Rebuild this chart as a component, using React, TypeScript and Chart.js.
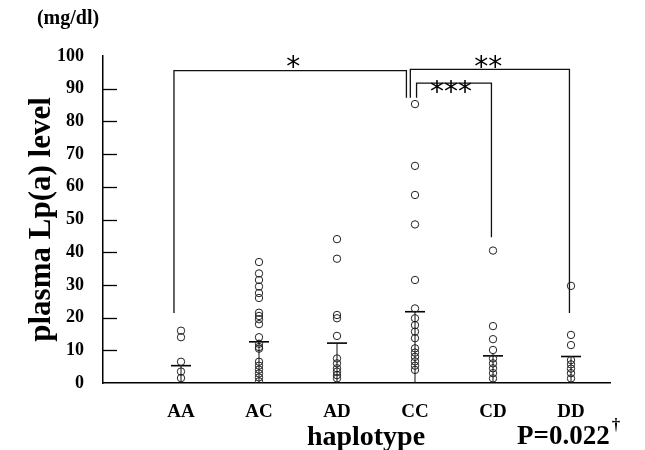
import React, { useEffect, useRef } from "react";
import { Chart, registerables } from "chart.js";

Chart.register(...registerables);

const categories = ["AA", "AC", "AD", "CC", "CD", "DD"];
const aaValues = [16, 14, 6.5, 3.5, 1.5];
const acValues = [37, 33.5, 31.5, 29.5, 27.5, 26, 21.5, 20.5, 19.5, 18, 14, 12, 11, 10.5, 6.5, 5.3, 4.1, 2.9, 1.7, 0.5];
const adValues = [44, 38, 20.8, 19.8, 14.4, 7.5, 6, 4.5, 3.5, 2.4, 1.4];
const ccValues = [85.3, 66.4, 57.5, 48.5, 31.5, 22.8, 19.8, 17.7, 15.7, 13.7, 10.6, 9.3, 8, 6.6, 5.3, 4];
const cdValues = [40.5, 17.4, 13.4, 10.1, 7.5, 6, 4.5, 3, 1.4];
const ddValues = [29.7, 14.7, 11.6, 7, 5.7, 4.4, 3, 1.4];
const groupValues = [aaValues, acValues, adValues, ccValues, cdValues, ddValues];
const centralValues = [5.3, 12.6, 12.2, 21.8, 8.3, 8.1];
const yTicks = [0, 10, 20, 30, 40, 50, 60, 70, 80, 90, 100];

// significance brackets (x in category units, y in mg/dl)
const bracketAAtoCC = [
  { x: 0.91, y: 21.4 },
  { x: 0.91, y: 95.5 },
  { x: 3.89, y: 95.5 },
  { x: 3.89, y: 87.2 },
];
const bracketCCtoDD = [
  { x: 3.94, y: 87.2 },
  { x: 3.94, y: 95.9 },
  { x: 5.98, y: 95.9 },
  { x: 5.98, y: 21.4 },
];
const bracketCCtoCD = [
  { x: 4.02, y: 87.2 },
  { x: 4.02, y: 91.7 },
  { x: 4.98, y: 91.7 },
  { x: 4.98, y: 44.6 },
];
const starTexts = ["*", "**", "***"];
const starX = [2.44, 4.94, 4.46];
const starY = [98.8, 98.8, 91.1];

const SERIF = '"Liberation Serif", "Times New Roman", serif';

const textPlugin = {
  id: "extraTexts",
  afterDraw(chart: any) {
    const ctx = chart.ctx as CanvasRenderingContext2D;
    const xs = chart.scales.x;
    const ys = chart.scales.y;
    ctx.save();
    // inner tick marks
    ctx.strokeStyle = "#000";
    ctx.lineWidth = 1.3;
    yTicks.forEach((v) => {
      if (v === 0 || v === 100) return;
      const py = Math.round(ys.getPixelForValue(v)) + 0.5;
      ctx.beginPath();
      ctx.moveTo(xs.left, py);
      ctx.lineTo(xs.left + 14, py);
      ctx.stroke();
    });
    // stars
    ctx.fillStyle = "#000";
    ctx.font = '28px "DejaVu Sans"';
    ctx.textAlign = "center";
    ctx.textBaseline = "alphabetic";
    starTexts.forEach((t, i) => {
      ctx.fillText(t, xs.getPixelForValue(starX[i]), ys.getPixelForValue(starY[i]) + 16);
    });
    // unit label
    ctx.font = "bold 20px " + SERIF;
    ctx.textAlign = "center";
    ctx.textBaseline = "middle";
    ctx.fillText("(mg/dl)", 68, 19);
    // x title
    ctx.font = "bold 28px " + SERIF;
    ctx.fillText("haplotype", 366, 438);
    // p value
    ctx.font = "bold 27px " + SERIF;
    ctx.textAlign = "left";
    ctx.fillText("P=0.022", 517, 437);
    const w = ctx.measureText("P=0.022").width;
    ctx.font = "bold 17px " + SERIF;
    ctx.fillText("\u2020", 517 + w + 2, 426);
    ctx.restore();
  },
};

export default function App() {
  const ref = useRef<HTMLCanvasElement | null>(null);
  useEffect(() => {
    if (!ref.current) return;
    const pointSets = groupValues.map((vals, i) => ({
      label: categories[i],
      data: vals.map((v) => ({ x: i + 1, y: v })),
      pointStyle: "circle" as const,
      pointRadius: 3.7,
      pointBorderWidth: 1,
      pointBorderColor: "#222",
      pointBackgroundColor: "rgba(0,0,0,0)",
      showLine: false,
    }));
    const stems = centralValues.map((v, i) => ({
      label: "stem" + i,
      data: [
        { x: i + 1, y: 0 },
        { x: i + 1, y: v },
      ],
      showLine: true,
      borderColor: "#111",
      borderWidth: 1,
      pointRadius: 0,
    }));
    const central = {
      label: "central",
      data: centralValues.map((v, i) => ({ x: i + 1, y: v })),
      pointStyle: "line" as const,
      pointRadius: 10,
      pointBorderWidth: 1.6,
      pointBorderColor: "#000",
      showLine: false,
    };
    const brackets = [bracketAAtoCC, bracketCCtoDD, bracketCCtoCD].map((b, i) => ({
      label: "bracket" + i,
      data: b,
      showLine: true,
      borderColor: "#111",
      borderWidth: 1.3,
      pointRadius: 0,
      tension: 0,
    }));
    const chart = new Chart(ref.current, {
      type: "scatter",
      data: { datasets: [...stems, ...pointSets, central, ...brackets] as any },
      options: {
        animation: false,
        responsive: false,
        layout: { padding: { top: 56, right: 35, left: 0, bottom: 0 } },
        plugins: { legend: { display: false }, tooltip: { enabled: false } },
        scales: {
          x: {
            type: "linear",
            min: 0,
            max: 6.5,
            grid: { display: false, drawTicks: false },
            border: { color: "#000", width: 1.5 },
            afterBuildTicks: (s: any) => {
              s.ticks = categories.map((_, i) => ({ value: i + 1 }));
            },
            afterFit: (s: any) => {
              s.height = 67;
            },
            ticks: {
              autoSkip: false,
              maxRotation: 0,
              padding: 18,
              color: "#000",
              font: { family: SERIF, size: 19, weight: "bold" },
              callback: (v: any) => categories[Number(v) - 1] ?? "",
            },
          },
          y: {
            min: 0,
            max: 100,
            grid: { display: false, drawTicks: false },
            border: { color: "#000", width: 1.5 },
            afterBuildTicks: (s: any) => {
              s.ticks = yTicks.map((v) => ({ value: v }));
            },
            afterFit: (s: any) => {
              s.width = 103;
            },
            ticks: {
              padding: 19,
              color: "#000",
              font: { family: SERIF, size: 18, weight: "bold" },
            },
            title: {
              display: true,
              text: "plasma Lp(a) level",
              color: "#000",
              font: { family: SERIF, size: 31, weight: "bold" },
              padding: { top: 23, bottom: 0 },
            },
          },
        },
      },
      plugins: [textPlugin],
    });
    return () => chart.destroy();
  }, []);
  return (
    <div style={{ position: "fixed", left: 0, top: 0, width: 645, height: 450, background: "#fff" }}>
      <canvas ref={ref} width={645} height={450} style={{ width: 645, height: 450 }} />
    </div>
  );
}
